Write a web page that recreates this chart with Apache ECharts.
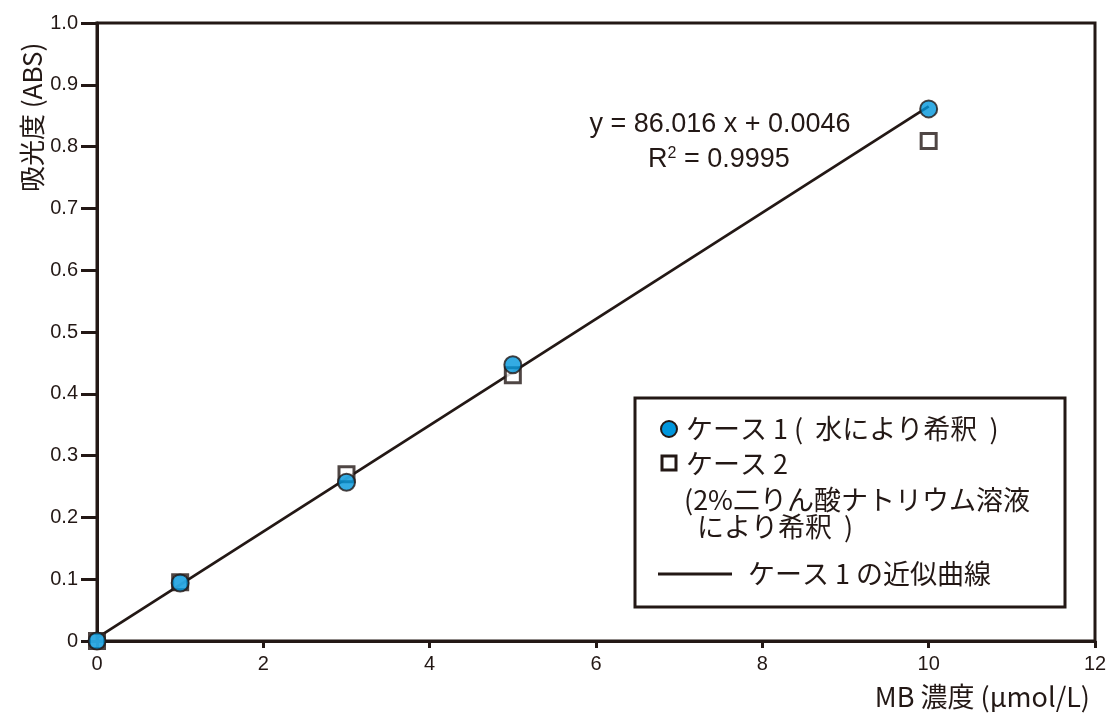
<!DOCTYPE html>
<html><head><meta charset="utf-8">
<script src="https://cdn.jsdelivr.net/npm/echarts@6/dist/echarts.min.js"></script>
<style>html,body{margin:0;padding:0;background:#fff}#c{width:1110px;height:713px}</style>
</head><body><div id="c"></div>
<script>
const xCase1 = [0, 1, 3, 5, 10];
const yCase1 = [0, 0.094, 0.257, 0.447, 0.861];
const xCase2 = [0, 1, 3, 5, 10];
const yCase2 = [0, 0.095, 0.270, 0.430, 0.809];
const fitX = [0, 10];
const fitY = [0.005, 0.865];
const xTicks = [0, 2, 4, 6, 8, 10, 12];
const yTicks = [0, 0.1, 0.2, 0.3, 0.4, 0.5, 0.6, 0.7, 0.8, 0.9, 1.0];
const seriesNames = ['ケース 1 (  水により希釈  )', 'ケース 2', 'ケース 1 の近似曲線'];
const case2Note = ['(2%二りん酸ナトリウム溶液', 'により希釈  )'];
const equationText = 'y = 86.016 x + 0.0046';
const r2Text = '0.9995';
const xName = 'MB 濃度 (μmol/L)';
const yName = '吸光度 (ABS)';

const ink = '#231815';
const blue = '#0096dc';
const font = '"Liberation Sans", "Noto Sans CJK JP", sans-serif';
const jfont = '"Noto Sans CJK JP", sans-serif';

const chart = echarts.init(document.getElementById('c'), null, {renderer: 'canvas'});
const pair = (xs, ys) => xs.map((x, i) => [x, ys[i]]);

chart.setOption({
  animation: false,
  backgroundColor: '#fff',
  grid: {left: 97, right: 15, top: 23, bottom: 72, show: true, borderColor: ink, borderWidth: 3, backgroundColor: 'transparent'},
  xAxis: {
    type: 'value', min: 0, max: 12, interval: 2,
    axisLine: {show: true, lineStyle: {color: ink, width: 3}},
    axisTick: {show: true, length: 7, lineStyle: {color: ink, width: 3}},
    splitLine: {show: false},
    axisLabel: {color: ink, fontSize: 20, fontFamily: font, margin: 13,
      formatter: v => xTicks.includes(v) ? String(v) : ''}
  },
  yAxis: {
    type: 'value', min: 0, max: 1.0, interval: 0.1,
    axisLine: {show: true, lineStyle: {color: ink, width: 3}},
    axisTick: {show: true, length: 16, lineStyle: {color: ink, width: 3}},
    splitLine: {show: false},
    axisLabel: {color: ink, fontSize: 20, fontFamily: font, margin: 19,
      formatter: v => { const t = yTicks.find(k => Math.abs(k - v) < 1e-6); return t === undefined ? '' : (t === 0 ? '0' : t.toFixed(1)); }}
  },
  series: [
    {name: seriesNames[2], type: 'line', data: pair(fitX, fitY), symbol: 'none',
      lineStyle: {color: ink, width: 2.8}, z: 2},
    {name: seriesNames[1], type: 'scatter', data: pair(xCase2, yCase2), symbol: 'rect', symbolSize: 15,
      itemStyle: {color: '#fff', borderColor: ink, borderWidth: 3}, z: 3},
    {name: seriesNames[0], type: 'scatter', data: pair(xCase1, yCase1), symbol: 'circle', symbolSize: 17,
      itemStyle: {color: blue, borderColor: ink, borderWidth: 2}, z: 4}
  ],
  graphic: [
    {type: 'text', x: 1090, y: 697, style: {text: xName, font: '27px ' + jfont, fill: ink, textAlign: 'right', textVerticalAlign: 'middle'}},
    {type: 'text', x: 19, y: 192, rotation: Math.PI / 2, style: {text: yName, font: '26px ' + jfont, fill: ink, textAlign: 'left', textVerticalAlign: 'top'}},
    {type: 'text', x: 720, y: 125, style: {text: equationText, font: '27px ' + font, fill: ink, textAlign: 'center', textVerticalAlign: 'middle'}},
    {type: 'text', x: 648, y: 146, style: {rich: {
        a: {font: '27px ' + font, fill: ink}, s: {font: '16px ' + font, fill: ink, verticalAlign: 'top', padding: [0,0,12,0]}},
        text: '{a|R}{s|2}{a| = ' + r2Text + '}'}},
    {type: 'rect', shape: {x: 635, y: 398, width: 430, height: 209}, style: {fill: '#fff', stroke: ink, lineWidth: 3}, z: 10},
    {type: 'circle', shape: {cx: 669, cy: 429, r: 8}, style: {fill: blue, stroke: ink, lineWidth: 2}, z: 11},
    {type: 'text', x: 686, y: 429, style: {text: seriesNames[0], font: '27px ' + jfont, fill: ink, textVerticalAlign: 'middle'}, z: 11},
    {type: 'rect', shape: {x: 662, y: 456, width: 14, height: 14}, style: {fill: '#fff', stroke: ink, lineWidth: 3}, z: 11},
    {type: 'text', x: 686, y: 464, style: {text: seriesNames[1], font: '27px ' + jfont, fill: ink, textVerticalAlign: 'middle'}, z: 11},
    {type: 'text', x: 684, y: 500, style: {text: case2Note[0], font: '27px ' + jfont, fill: ink, textVerticalAlign: 'middle'}, z: 11},
    {type: 'text', x: 697, y: 527, style: {text: case2Note[1], font: '27px ' + jfont, fill: ink, textVerticalAlign: 'middle'}, z: 11},
    {type: 'line', shape: {x1: 658, y1: 574, x2: 732, y2: 574}, style: {stroke: ink, lineWidth: 3}, z: 11},
    {type: 'text', x: 748, y: 574, style: {text: seriesNames[2], font: '27px ' + jfont, fill: ink, textVerticalAlign: 'middle'}, z: 11}
  ]
});
</script></body></html>
